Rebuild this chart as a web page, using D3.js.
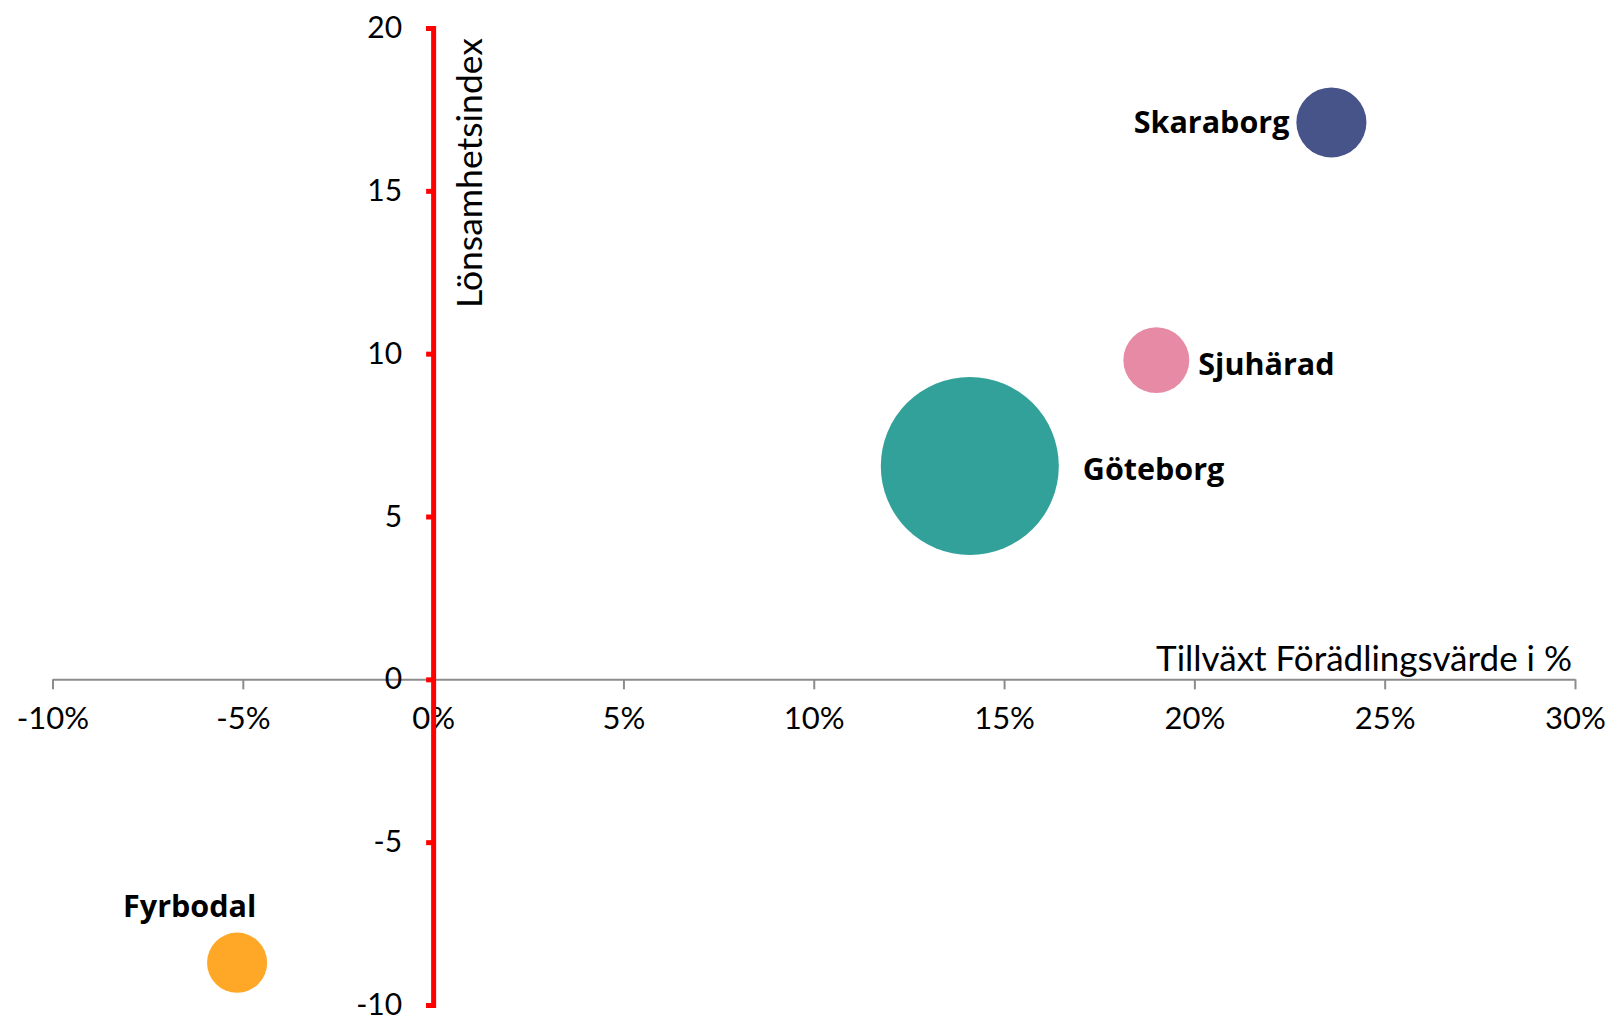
<!DOCTYPE html>
<html>
<head>
<meta charset="utf-8">
<script src="https://cdn.jsdelivr.net/npm/d3@7"></script>
<style>
  body { margin: 0; background: #fff; }
  svg { display: block; }
  .tick text { font-family: Lato, "Open Sans", sans-serif; fill: #000; }
  .bubble-label { font-family: "Open Sans", sans-serif; font-weight: 700; fill: #000; }
  .axis-title { font-family: Lato, "Open Sans", sans-serif; fill: #000; }
</style>
</head>
<body>
<svg width="1613" height="1019"></svg>
<script>
// regions and their values
var regions = ["Skaraborg", "Sjuhärad", "Göteborg", "Fyrbodal"];
var growth = [0.236, 0.190, 0.141, -0.0515];     // Tillväxt förädlingsvärde
var profit = [17.1, 9.8, 6.55, -8.7];            // Lönsamhetsindex
var size = [15.5, 13.7, 100, 11.4];              // bubble size (relative)
var colors = ["#47548a", "#e68aa5", "#32a19a", "#ffa726"];

var xTicks = [-0.10, -0.05, 0, 0.05, 0.10, 0.15, 0.20, 0.25, 0.30];
var xTickLabels = ["-10%", "-5%", "0%", "5%", "10%", "15%", "20%", "25%", "30%"];
var yTicks = [-10, -5, 0, 5, 10, 15, 20];
var yTickLabels = ["-10", "-5", "0", "5", "10", "15", "20"];

// label placement: side of the bubble and offset
var labelPos = [
  { anchor: "end", dx: -42, dy: 11 },
  { anchor: "start", dx: 42, dy: 15 },
  { anchor: "start", dx: 113, dy: 14 },
  { anchor: "start", dx: -114, dy: -46 }
];

var svg = d3.select("svg");

var xScale = d3.scaleLinear()
  .domain([-0.10, 0.30])
  .range([52.5, 1575]);

var yScale = d3.scaleLinear()
  .domain([-10, 20])
  .range([1005, 28]);

var rScale = d3.scaleSqrt()
  .domain([0, 100])
  .range([0, 89]);

// x axis (gray, through y = 0)
var xAxis = d3.axisBottom(xScale)
  .tickValues(xTicks)
  .tickFormat(function(d, i) { return xTickLabels[i]; })
  .tickSize(10)
  .tickSizeOuter(0)
  .tickPadding(18);

var gx = svg.append("g")
  .attr("class", "x axis")
  .attr("transform", "translate(0," + yScale(0) + ")")
  .call(xAxis);
gx.select(".domain").attr("stroke", "#8c8c8c").attr("stroke-width", 2);
gx.selectAll(".tick line").attr("stroke", "#8c8c8c").attr("stroke-width", 2);
gx.selectAll(".tick text").style("font-size", "31px");

gx.append("text")
  .attr("class", "axis-title")
  .attr("x", 1572)
  .attr("y", -8)
  .style("text-anchor", "end")
  .style("font-size", "35px")
  .text("Tillväxt Förädlingsvärde i %");

// y axis (red, through x = 0)
var yAxis = d3.axisLeft(yScale)
  .tickValues(yTicks)
  .tickFormat(function(d, i) { return yTickLabels[i]; })
  .tickSize(7)
  .tickSizeOuter(7)
  .tickPadding(24);

var gy = svg.append("g")
  .attr("class", "y axis")
  .attr("transform", "translate(" + xScale(0) + ",0)")
  .call(yAxis);
gy.select(".domain").attr("stroke", "#ff0000").attr("stroke-width", 5).attr("fill", "none");
gy.selectAll(".tick line").attr("stroke", "#ff0000").attr("stroke-width", 5);
gy.selectAll(".tick text").style("font-size", "30px");

gy.append("text")
  .attr("class", "axis-title")
  .attr("transform", "rotate(-90)")
  .attr("x", -38)
  .attr("y", 49)
  .style("text-anchor", "end")
  .style("font-size", "35.5px")
  .text("Lönsamhetsindex");

// bubbles
var data = regions.map(function(name, i) {
  return { name: name, x: growth[i], y: profit[i], s: size[i], color: colors[i], label: labelPos[i] };
});

svg.append("g").selectAll("circle")
  .data(data)
  .enter().append("circle")
    .attr("cx", function(d) { return xScale(d.x); })
    .attr("cy", function(d) { return yScale(d.y); })
    .attr("r", function(d) { return rScale(d.s); })
    .attr("fill", function(d) { return d.color; });

svg.append("g").selectAll("text")
  .data(data)
  .enter().append("text")
    .attr("class", "bubble-label")
    .attr("x", function(d) { return xScale(d.x) + d.label.dx; })
    .attr("y", function(d) { return yScale(d.y) + d.label.dy; })
    .style("text-anchor", function(d) { return d.label.anchor; })
    .style("font-size", "30.5px")
    .text(function(d) { return d.name; });
</script>
</body>
</html>
